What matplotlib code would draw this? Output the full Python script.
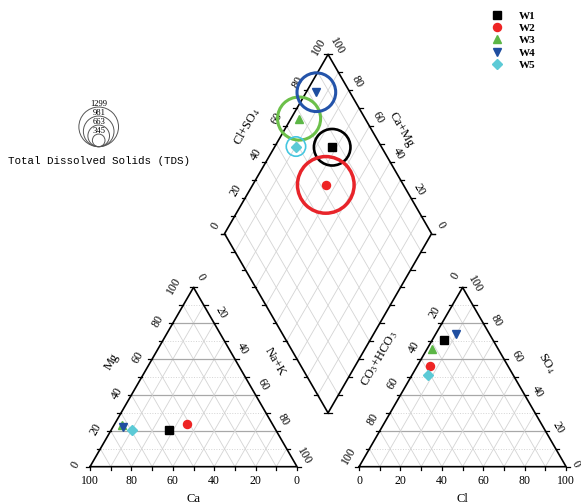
import numpy as np
import matplotlib.pyplot as plt
from matplotlib.patches import Circle

plt.rcParams['font.family'] = 'Liberation Serif'
plt.rcParams['mathtext.fontset'] = 'stix'

# composicion en % meq de cada muestra
muestras = ['W1', 'W2', 'W3', 'W4', 'W5']
ca = [51.7, 41.1, 73.1, 72.8, 69.5]
mg = [20.4, 23.6, 23.0, 22.3, 20.3]
na_k = [27.9, 35.3, 3.9, 4.9, 10.2]
hco3 = [23.9, 37.5, 31.9, 16.2, 41.2]
so4 = [70.5, 56.3, 65.7, 73.9, 51.3]
cl = [5.6, 6.2, 2.4, 9.9, 7.5]
tds = [1190, 1900, 1420, 1265, 585]
tds_niveles = [345, 663, 981, 1299]

marcas = ['s', 'o', '^', 'v', 'D']
tam_marca = [5.3, 5.8, 6.0, 6.0, 5.0]
colores = ['#000000', '#ee2424', '#5cb646', '#1f4ea0', '#5ccad6']
color_anillo = ['#000000', '#e8242a', '#6cc04a', '#2454aa', '#45c6e0']
grosor_anillo = [1.9, 2.5, 2.2, 2.2, 1.2]

h = np.sqrt(3) / 2
sep = 30
x_der = 100 + sep
gris = '#d4d4d4'
gris_h = '#a8a8a8'
fs_tick = 8.5
fs_tit = 9


def ternario(x0, derecha, arriba):
    derecha = np.asarray(derecha, float)
    arriba = np.asarray(arriba, float)
    return x0 + derecha + arriba / 2, arriba * h


def rombo(a, c):
    # a = Cl+SO4, c = Ca+Mg
    a = np.asarray(a, float)
    c = np.asarray(c, float)
    return 100 + sep / 2 + (a - c) / 2, sep * h + (a + c) * h


def radio(t):
    return 0.69 + 0.00684 * t


def tick(ax, x, y, dx, dy):
    ax.plot([x, x + dx], [y, y + dy], color='k', lw=0.9)


def dibujar_triangulo(ax, x0):
    for v in range(10, 100, 10):
        if v % 20 == 0:
            ax.plot([x0 + v / 2, x0 + 100 - v / 2], [v * h, v * h], color=gris_h, lw=0.9)
        else:
            ax.plot([x0 + v / 2, x0 + 100 - v / 2], [v * h, v * h], color=gris, lw=0.7, ls=':')
        ax.plot([x0 + v, x0 + v + (100 - v) / 2], [0, (100 - v) * h], color=gris, lw=0.6)
        ax.plot([x0 + 100 - v, x0 + (100 - v) / 2], [0, (100 - v) * h], color=gris, lw=0.6)
    ax.plot([x0, x0 + 100, x0 + 50, x0], [0, 0, 100 * h, 0], color='k', lw=1.2)
    for v in range(0, 101, 10):
        tick(ax, x0 + v, 0, 0, -1.8)
        tick(ax, x0 + v / 2, v * h, -1.8, 0)
        tick(ax, x0 + 100 - v / 2, v * h, 1.8, 0)


fig = plt.figure(figsize=(5.81, 5.04), dpi=100)
ax = fig.add_axes([0, 0, 1, 1])
ax.set_xlim(-43.48, 237.2)
ax.set_ylim(-18.02, 225.46)
ax.axis('off')

dibujar_triangulo(ax, 0)
dibujar_triangulo(ax, x_der)

# rejilla del rombo
for v in range(10, 100, 10):
    xs, ys = rombo([v, v], [0, 100])
    ax.plot(xs, ys, color=gris, lw=0.6)
    xs, ys = rombo([0, 100], [v, v])
    ax.plot(xs, ys, color=gris, lw=0.6)
xs, ys = rombo([0, 100, 100, 0, 0], [0, 0, 100, 100, 0])
ax.plot(xs, ys, color='k', lw=1.2)
for v in range(0, 101, 10):
    x, y = rombo(0, v); tick(ax, x, y, -1.8, 0)
    x, y = rombo(v, 0); tick(ax, x, y, 1.8, 0)
    x, y = rombo(v, 100); tick(ax, x, y, -1.8, 0)
    x, y = rombo(100, v); tick(ax, x, y, 1.8, 0)

# etiquetas de los ejes
for v in range(0, 101, 20):
    ax.text(v, -7, str(100 - v), fontsize=fs_tick, ha='center', va='center')
    ax.text(x_der + v, -7, str(v), fontsize=fs_tick, ha='center', va='center')
    d = 9.5 if v == 100 else 7
    ax.text(v / 2 - d, v * h + 0.8, str(v), fontsize=fs_tick, rotation=60,
            ha='center', va='center')
    ax.text(100 - v / 2 + 3.5, v * h + 5.2, str(100 - v), fontsize=fs_tick,
            rotation=-60, ha='center', va='center')
    ax.text(x_der + v / 2 - (5 if v == 0 else 3.5), v * h + 5.5, str(100 - v),
            fontsize=fs_tick, rotation=60, ha='center', va='center')
    ax.text(x_der + 100 - v / 2 + (4.6 if v == 0 else 6.2), v * h + 1.4, str(v),
            fontsize=fs_tick, rotation=-60, ha='center', va='center')
    x, y = rombo(v, 100)
    ax.text(x - 4.5, y + 3.8, str(v), fontsize=fs_tick, rotation=60,
            ha='center', va='center')
    x, y = rombo(100, v)
    ax.text(x + 4.2, y + 3.9, str(v), fontsize=fs_tick, rotation=-60,
            ha='center', va='center')

ax.text(50, -15.7, 'Ca', fontsize=fs_tit, ha='center', va='center')
ax.text(x_der + 50, -15.7, 'Cl', fontsize=fs_tit, ha='center', va='center')
ax.text(10.5, 50.7, 'Mg', fontsize=fs_tit, rotation=60, ha='center', va='center')
ax.text(89.4, 50.7, 'Na+K', fontsize=fs_tit, rotation=-60, ha='center', va='center')
ax.text(140.1, 52.4, 'CO$_3$+HCO$_3$', fontsize=fs_tit, rotation=60,
        ha='center', va='center')
ax.text(220.6, 50.0, 'SO$_4$', fontsize=fs_tit, rotation=-60, ha='center', va='center')
ax.text(75.7, 164.3, 'Cl+SO$_4$', fontsize=fs_tit, rotation=60, ha='center', va='center')
ax.text(150.6, 162.7, 'Ca+Mg', fontsize=fs_tit, rotation=-60, ha='center', va='center')

# puntos
cl_so4 = np.array(cl) + np.array(so4)
ca_mg = np.array(ca) + np.array(mg)
xl, yl = ternario(0, na_k, mg)
xr, yr = ternario(x_der, cl, so4)
xd, yd = rombo(cl_so4, ca_mg)
handles = []
for i in range(len(muestras)):
    ax.add_patch(Circle((xd[i], yd[i]), radio(tds[i]), fill=False,
                        ec=color_anillo[i], lw=grosor_anillo[i], zorder=4))
for i in range(len(muestras)):
    estilo = dict(marker=marcas[i], ms=tam_marca[i], color=colores[i], ls='none', zorder=5)
    ax.plot(xl[i], yl[i], **estilo)
    ax.plot(xr[i], yr[i], **estilo)
    ln, = ax.plot(xd[i], yd[i], label=muestras[i], **estilo)
    handles.append(ln)

# escala de TDS
cx, base = 4.2, 154.6
for t in tds_niveles:
    r = radio(t)
    ax.add_patch(Circle((cx, base + r), r, fill=False, ec='#555555', lw=0.7))
    ax.text(cx, base + 2 * r - 0.6, str(t), fontsize=6.2, ha='center', va='bottom')
ax.text(cx, 147.8, 'Total Dissolved Solids (TDS)', family='Liberation Mono',
        fontsize=7.8, ha='center', va='center')

ax.legend(handles=handles, loc='upper left', bbox_to_anchor=(0.846, 0.978),
          bbox_transform=fig.transFigure, frameon=False, handlelength=1.0,
          handletextpad=1.5, labelspacing=0.22, borderpad=0, borderaxespad=0,
          prop={'weight': 'bold', 'size': 8})

fig.savefig('out.png', dpi=100)
